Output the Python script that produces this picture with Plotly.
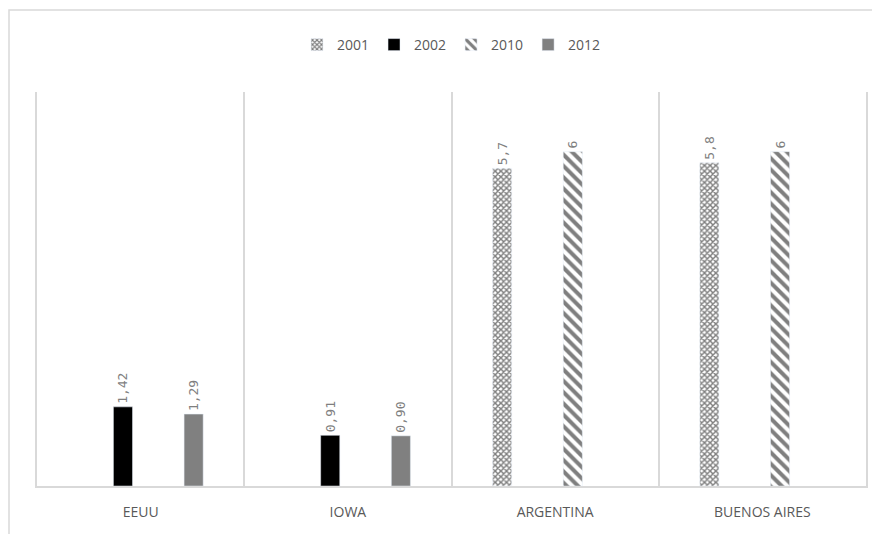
import plotly.graph_objects as go

categories = ["EEUU", "IOWA", "ARGENTINA", "BUENOS AIRES"]
series_names = ["2001", "2002", "2010", "2012"]
v2001 = [None, None, 5.7, 5.8]
v2002 = [1.42, 0.91, None, None]
v2010 = [None, None, 6, 6]
v2012 = [1.29, 0.90, None, None]
labels2001 = ["", "", "5,7", "5,8"]
labels2002 = ["1,42", "0,91", "", ""]
labels2010 = ["", "", "6", "6"]
labels2012 = ["1,29", "0,90", "", ""]

values = [v2001, v2002, v2010, v2012]
labels = [labels2001, labels2002, labels2010, labels2012]

markers = [
    dict(color="white", pattern=dict(shape="x", size=4, solidity=0.6, fgcolor="#7f7f7f",
                                     fgopacity=1, bgcolor="white")),
    dict(color="#000000"),
    dict(color="white", pattern=dict(shape="\\", size=8, solidity=0.5, fgcolor="#7f7f7f",
                                     fgopacity=1, bgcolor="white")),
    dict(color="#808080"),
]

fig = go.Figure()
for name, v, t, m in zip(series_names, values, labels, markers):
    fig.add_trace(go.Bar(
        name=name, x=categories, y=v, text=t, marker=m,
        textposition="outside", textangle=-90, cliponaxis=False, constraintext="none",
        textfont=dict(family="DejaVu Sans Mono, monospace", size=13, color="#7f7f7f"),
    ))

fig.update_layout(
    width=880, height=534,
    margin=dict(l=29, r=22, t=84, b=56),
    paper_bgcolor="white", plot_bgcolor="white",
    barmode="group", bargap=0.318, bargroupgap=0.46,
    font=dict(family="Open Sans, Liberation Sans, sans-serif", color="#595959"),
    legend=dict(orientation="h", x=0.5, xanchor="center", y=(478 - 37) / 394, yanchor="middle",
                font=dict(size=14, color="#595959"), itemwidth=30, traceorder="normal"),
    xaxis=dict(type="category", tickson="boundaries", showgrid=True, gridcolor="#d9d9d9", gridwidth=1.5,
               showline=True, linecolor="#d9d9d9", linewidth=2, ticks="", ticklabelstandoff=12,
               tickfont=dict(size=14, color="#595959")),
    yaxis=dict(range=[0, 7.07], showgrid=False, showticklabels=False, zeroline=False,
               showline=True, mirror=True, linecolor="#d9d9d9", linewidth=1.5, ticks=""),
    shapes=[dict(type="rect", xref="paper", yref="paper",
                 x0=-28 / 829, x1=1.2, y0=-0.3, y1=(478 - 2) / 394,
                 line=dict(color="#d9d9d9", width=1.5), fillcolor="rgba(0,0,0,0)", layer="below")],
)

fig.write_html("out.html")
